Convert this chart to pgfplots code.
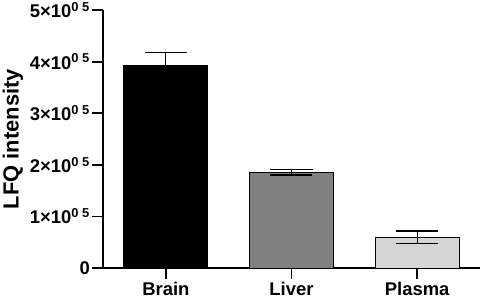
\documentclass[border=0pt]{standalone}
\usepackage{fontspec}
\setmainfont{Liberation Sans}
\usepackage{pgfplots}
\pgfplotsset{compat=1.18}
\definecolor{livergray}{HTML}{808080}
\definecolor{plasmagray}{HTML}{D6D6D6}
\begin{document}
\begin{tikzpicture}
\begin{axis}[
  scale only axis, width=377bp, height=258bp,
  xmin=-0.5, xmax=2.5, ymin=0, ymax=500000,
  axis lines*=left,
  axis line style={line width=1.8bp, black},
  xtick={0,1,2}, xticklabels={Brain,Liver,Plasma},
  ytick={0,100000,200000,300000,400000,500000},
  yticklabels={0,1×10\textsuperscript{0 5},2×10\textsuperscript{0 5},3×10\textsuperscript{0 5},4×10\textsuperscript{0 5},5×10\textsuperscript{0 5}},
  scaled y ticks=false,
  tick style={line width=1.8bp, black},
  major tick length=11bp, tick align=outside,
  y tick label style={font=\fontsize{18.5}{18.5}\selectfont\bfseries, inner sep=2bp},
  x tick label style={font=\fontsize{18.5}{18.5}\selectfont\bfseries},
  ylabel={LFQ intensity},
  ylabel style={font=\fontsize{22}{22}\selectfont\bfseries, at={([xshift=-90bp]axis description cs:0,0.5)}, anchor=center},
  ybar, bar width=84bp, bar shift=0pt,
  clip=false,
  error bars/y dir=both, error bars/y explicit,
  error bars/error bar style={line width=1.3bp, black},
  error bars/error mark options={rotate=90, mark size=21bp, line width=1.3bp, black},
]
\addplot[fill=black, draw=black, line width=1bp] coordinates {(0,393000) +- (0,25000)};
\addplot[fill=livergray, draw=black, line width=1bp] coordinates {(1,185500) +- (0,5000)};
\addplot[fill=plasmagray, draw=black, line width=1bp] coordinates {(2,59500) +- (0,12000)};
\end{axis}
\pgfresetboundingbox
\useasboundingbox ([xshift=-103bp,yshift=-33bp]current axis.south west) rectangle ([xshift=4bp,yshift=10bp]current axis.north east);
\end{tikzpicture}
\end{document}
